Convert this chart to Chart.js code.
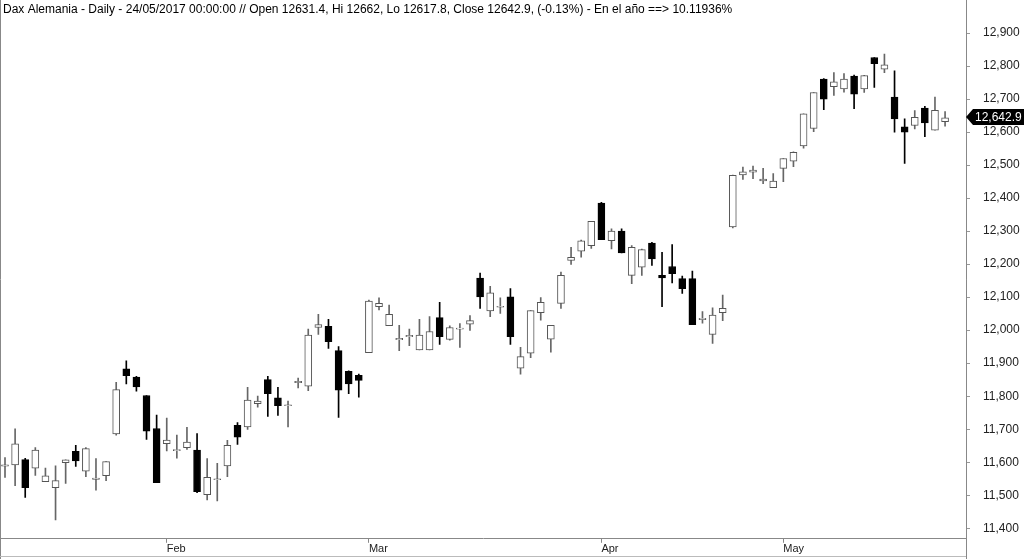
<!DOCTYPE html>
<html>
<head>
<meta charset="utf-8">
<title>Dax Alemania - Daily</title>
<script src="https://cdn.jsdelivr.net/npm/chart.js@4.4.1/dist/chart.umd.min.js"></script>
<style>
    html, body { margin: 0; padding: 0; background: #fff; }
    #chart { display: block; }
</style>
</head>
<body>
<canvas id="chart" width="1024" height="559"></canvas>
<script>
// Datos diarios (10/01/2017 - 24/05/2017)
const dates = [
    '10/01', '11/01', '12/01', '13/01', '16/01', '17/01', '18/01', '19/01', '20/01', '23/01', '24/01', '25/01', '26/01', '27/01', '30/01', '31/01',
    '01/02', '02/02', '03/02', '06/02', '07/02', '08/02', '09/02', '10/02', '13/02', '14/02', '15/02', '16/02', '17/02', '20/02', '21/02', '22/02', '23/02', '24/02', '27/02', '28/02',
    '01/03', '02/03', '03/03', '06/03', '07/03', '08/03', '09/03', '10/03', '13/03', '14/03', '15/03', '16/03', '17/03', '20/03', '21/03', '22/03', '23/03', '24/03', '27/03', '28/03', '29/03', '30/03', '31/03',
    '03/04', '04/04', '05/04', '06/04', '07/04', '10/04', '11/04', '12/04', '13/04', '18/04', '19/04', '20/04', '21/04', '24/04', '25/04', '26/04', '27/04', '28/04',
    '02/05', '03/05', '04/05', '05/05', '08/05', '09/05', '10/05', '11/05', '12/05', '15/05', '16/05', '17/05', '18/05', '19/05', '22/05', '23/05', '24/05'
];

const opens = [
    11588, 11592, 11608, 11582, 11541, 11523, 11599, 11633, 11573, 11548, 11559, 11686, 11883, 11858, 11802, 11702,
    11656, 11635, 11644, 11637, 11502, 11547, 11589, 11712, 11707, 11777, 11850, 11795, 11771, 11841, 11830, 12008, 12012, 11938, 11875, 11863,
    11932, 12071, 12014, 11971, 11980, 11940, 11940, 12038, 11972, 12003, 12018, 12158, 12058, 12070, 12101, 11885, 11930, 12053, 11973, 12081, 12211, 12239, 12256,
    12385, 12271, 12300, 12166, 12191, 12264, 12166, 12193, 12156, 12156, 12032, 11987, 12053, 12313, 12470, 12479, 12452, 12432,
    12490, 12512, 12558, 12611, 12761, 12738, 12731, 12770, 12731, 12826, 12791, 12706, 12616, 12620, 12673, 12606, 12631.4
];

const highs = [
    11614, 11701, 11612, 11644, 11582, 11589, 11607, 11651, 11644, 11611, 11602, 11842, 11907, 11860, 11802, 11743,
    11734, 11682, 11706, 11687, 11611, 11597, 11666, 11720, 11827, 11800, 11860, 11827, 11785, 11855, 12003, 12048, 12033, 11950, 11877, 11867,
    12091, 12098, 12076, 12015, 12003, 12033, 12041, 12084, 12013, 12020, 12044, 12173, 12133, 12098, 12126, 11948, 12059, 12099, 12015, 12176, 12251, 12273, 12330,
    12387, 12307, 12307, 12256, 12246, 12266, 12236, 12259, 12164, 12179, 12056, 12068, 12106, 12470, 12494, 12497, 12490, 12474,
    12520, 12540, 12655, 12720, 12762, 12780, 12777, 12773, 12772, 12826, 12836, 12786, 12640, 12665, 12678, 12706, 12662
];

const lows = [
    11554, 11529, 11493, 11560, 11541, 11425, 11536, 11587, 11556, 11515, 11544, 11682, 11837, 11815, 11669, 11538,
    11634, 11612, 11639, 11508, 11486, 11483, 11556, 11654, 11699, 11767, 11739, 11742, 11707, 11825, 11817, 11987, 11945, 11736, 11808, 11797,
    11932, 12061, 12014, 11938, 11953, 11940, 11940, 11957, 11970, 11948, 11999, 12066, 12041, 12051, 11957, 11867, 11917, 12030, 11933, 12066, 12199, 12221, 12248,
    12274, 12246, 12234, 12141, 12166, 12196, 12071, 12143, 12111, 12017, 12021, 11960, 12029, 12310, 12457, 12459, 12444, 12432,
    12450, 12495, 12551, 12601, 12668, 12711, 12721, 12671, 12720, 12735, 12780, 12600, 12505, 12610, 12586, 12606, 12617.8
];

const closes = [
    11592, 11656, 11523, 11637, 11559, 11544, 11607, 11604, 11641, 11552, 11602, 11820, 11862, 11828, 11694, 11538,
    11667, 11638, 11661, 11511, 11554, 11550, 11651, 11676, 11788, 11785, 11808, 11771, 11774, 11845, 11985, 12017, 11965, 11818, 11837, 11848,
    12088, 12081, 12048, 11975, 11984, 11985, 11996, 11980, 12008, 12006, 12029, 12101, 12113, 12072, 11980, 11920, 12059, 12084, 12015, 12166, 12221, 12271, 12330,
    12274, 12300, 12234, 12251, 12244, 12216, 12158, 12171, 12126, 12017, 12036, 12046, 12066, 12469, 12480, 12485, 12458, 12452,
    12520, 12539, 12655, 12720, 12700, 12752, 12761, 12715, 12771, 12807, 12804, 12640, 12600, 12645, 12628, 12666, 12642.9
];

const yTicks = [11400, 11500, 11600, 11700, 11800, 11900, 12000, 12100, 12200, 12300, 12400, 12500, 12600, 12700, 12800, 12900];
const monthTicks = [16, 36, 59, 77];
const monthLabels = ['Feb', 'Mar', 'Apr', 'May'];

const titleText = 'Dax Alemania - Daily - 24/05/2017 00:00:00 // Open 12631.4, Hi 12662, Lo 12617.8, Close 12642.9, (-0.13%) - En el año ==> 10.11936%';
const FONT = '"Liberation Sans", Arial, sans-serif';

// Colores de las velas
const isUp = closes.map((c, i) => c >= opens[i]);
const bodyFill = isUp.map(up => up ? '#ffffff' : '#000000');
const bodyBorder = isUp.map(up => up ? '#555555' : '#000000');
const wickColor = isUp.map(up => up ? '#666666' : '#000000');

const bodyData = dates.map((d, i) => ({ x: i, y: [opens[i], closes[i]] }));
const wickData = dates.map((d, i) => ({ x: i, y: [lows[i], highs[i]] }));

// Titulo, separadores y etiqueta del ultimo precio
const decorPlugin = {
    id: 'decor',
    afterDraw(chart) {
        const ctx = chart.ctx;
        const yScale = chart.scales.y;
        const area = chart.chartArea;

        ctx.save();
        ctx.fillStyle = '#000';
        ctx.font = '12px ' + FONT;
        ctx.textBaseline = 'middle';
        ctx.textAlign = 'left';
        ctx.fillText(titleText, 3, 10);

        ctx.strokeStyle = '#888';
        ctx.lineWidth = 1;
        ctx.beginPath();
        ctx.moveTo(Math.round(area.right) + 0.5, 0);
        ctx.lineTo(Math.round(area.right) + 0.5, chart.height);
        ctx.moveTo(0.5, 0);
        ctx.lineTo(0.5, chart.height);
        ctx.stroke();

        ctx.strokeStyle = '#bbb';
        ctx.beginPath();
        ctx.moveTo(0, chart.height - 2.5);
        ctx.lineTo(area.right, chart.height - 2.5);
        ctx.stroke();

        // Etiqueta del cierre
        const last = closes[closes.length - 1];
        const py = yScale.getPixelForValue(last) - 1;
        const left = area.right;
        ctx.fillStyle = '#000';
        ctx.beginPath();
        ctx.moveTo(left, py);
        ctx.lineTo(left + 7, py - 8);
        ctx.lineTo(chart.width, py - 8);
        ctx.lineTo(chart.width, py + 8);
        ctx.lineTo(left + 7, py + 8);
        ctx.closePath();
        ctx.fill();
        ctx.fillStyle = '#fff';
        ctx.font = '12px ' + FONT;
        ctx.fillText(last.toLocaleString('en-US', { minimumFractionDigits: 1 }), left + 9, py + 0.5);
        ctx.restore();
    }
};

const chart = new Chart(document.getElementById('chart'), {
    type: 'bar',
    data: {
        datasets: [{
            label: 'Cuerpo',
            data: bodyData,
            backgroundColor: bodyFill,
            borderColor: bodyBorder,
            borderWidth: 1,
            borderSkipped: false,
            barThickness: 7,
            grouped: false
        }, {
            label: 'Mecha',
            data: wickData,
            backgroundColor: wickColor,
            borderWidth: 0,
            barThickness: 1,
            grouped: false
        }]
    },
    options: {
        responsive: false,
        animation: false,
        devicePixelRatio: 1,
        layout: {
            padding: { top: 20, left: 0, right: 0, bottom: 0 }
        },
        plugins: {
            legend: { display: false },
            tooltip: { enabled: false }
        },
        scales: {
            x: {
                type: 'linear',
                offset: false,
                min: -0.495,
                max: 95.07,
                afterBuildTicks: (scale) => {
                    scale.ticks = monthTicks.map(v => ({ value: v }));
                },
                afterFit: (scale) => { scale.height = 17; },
                grid: {
                    offset: false,
                    drawOnChartArea: false,
                    drawTicks: true,
                    tickLength: 4,
                    color: '#888'
                },
                border: { display: true, color: '#888' },
                ticks: {
                    autoSkip: false,
                    maxRotation: 0,
                    align: 'start',
                    padding: 0,
                    color: '#222',
                    font: { family: FONT, size: 11 },
                    callback: (value) => monthLabels[monthTicks.indexOf(value)]
                }
            },
            y: {
                type: 'linear',
                position: 'right',
                min: 11368,
                max: 12939,
                afterBuildTicks: (scale) => {
                    scale.ticks = yTicks.map(v => ({ value: v }));
                },
                afterFit: (scale) => { scale.width = 58; },
                grid: {
                    drawOnChartArea: false,
                    drawTicks: true,
                    tickLength: 4,
                    color: '#999'
                },
                border: { display: true, color: '#888' },
                ticks: {
                    padding: 13,
                    color: '#222',
                    font: { family: FONT, size: 12 },
                    callback: (value) => value.toLocaleString('en-US')
                }
            }
        }
    },
    plugins: [decorPlugin]
});
</script>
</body>
</html>
